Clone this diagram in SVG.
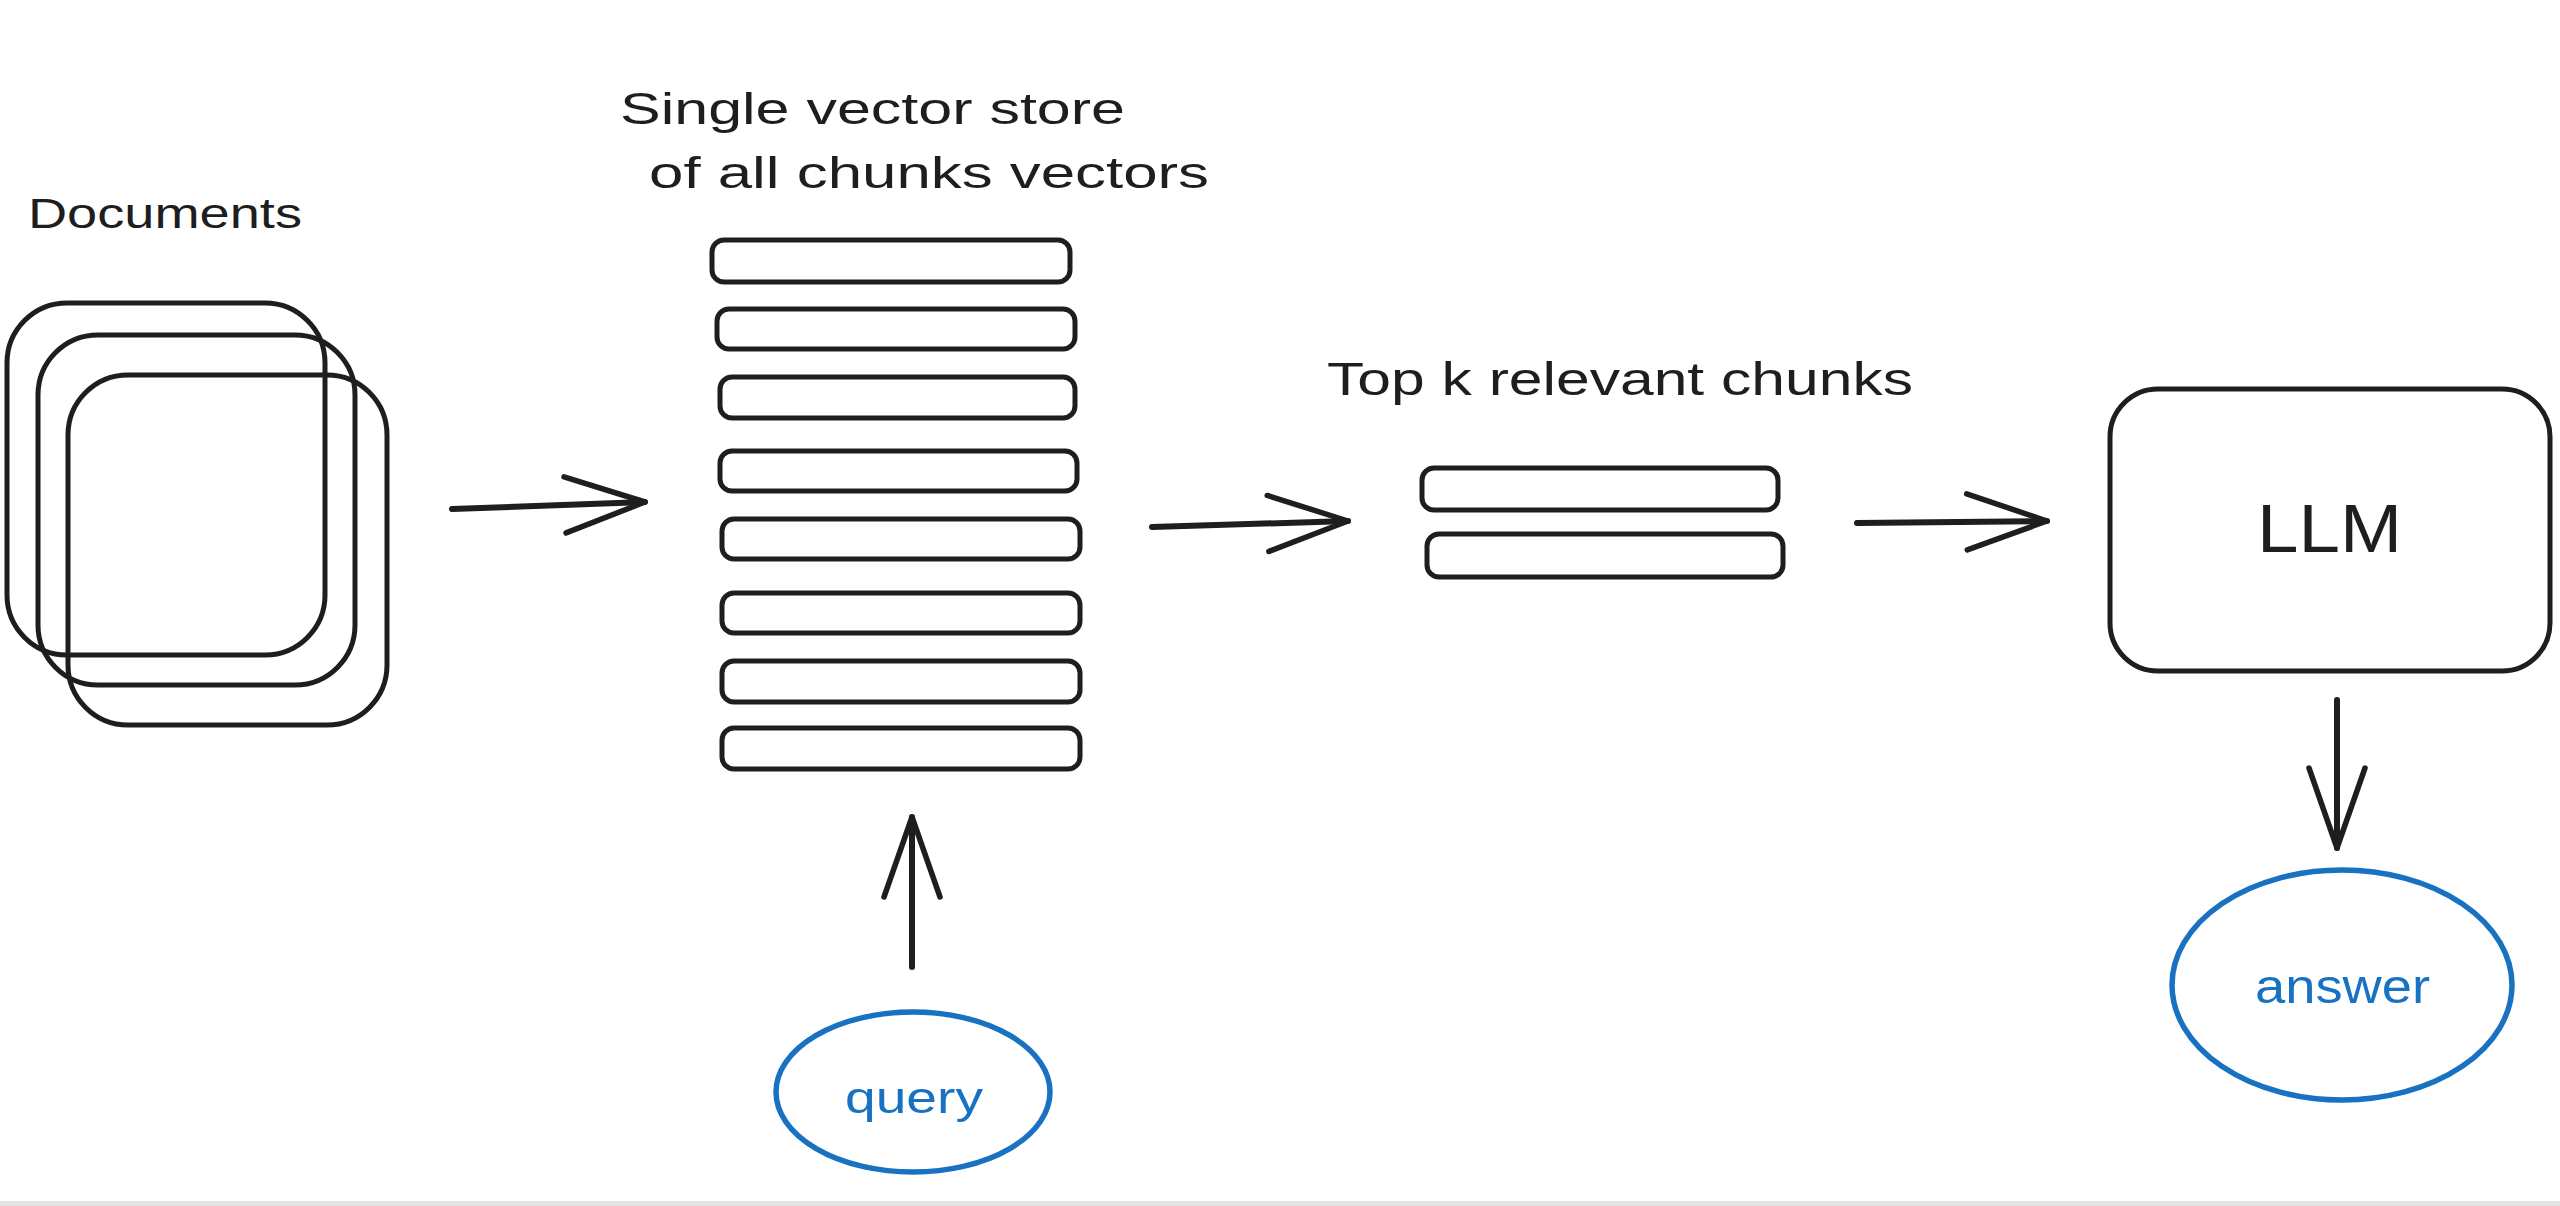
<svg xmlns="http://www.w3.org/2000/svg" width="2560" height="1206" viewBox="0 0 2560 1206">
  <style>
    .shape { fill: none; stroke: #1e1e1e; stroke-width: 5; stroke-linejoin: round; }
    .blue { fill: none; stroke: #1971c2; stroke-width: 5.5; }
    .conn { fill: none; stroke: #1e1e1e; stroke-width: 6; stroke-linecap: round; }
    .lbl { font-family: "Liberation Sans", "DejaVu Sans", sans-serif; fill: #1e1e1e; }
    .blbl { font-family: "Liberation Sans", "DejaVu Sans", sans-serif; fill: #1971c2; }
  </style>
  <defs>
    <marker id="arrow" markerUnits="userSpaceOnUse" viewBox="-90 -40 100 80" refX="0" refY="0" markerWidth="100" markerHeight="80" orient="auto" overflow="visible">
      <path d="M -80 -28 L 0 0 L -80 28" fill="none" stroke="#1e1e1e" stroke-width="5.5" stroke-linecap="round" stroke-linejoin="round"/>
    </marker>
  </defs>
  <rect x="0" y="0" width="2560" height="1206" fill="#ffffff"/>
  <rect x="0" y="1201" width="2560" height="5" fill="#e4e4e4"/>

  <g id="documents">
    <text class="lbl" x="28" y="228" font-size="42" textLength="274" lengthAdjust="spacingAndGlyphs">Documents</text>
    <rect class="shape" x="7" y="303" width="318" height="352" rx="60"/>
    <rect class="shape" x="38" y="335" width="317" height="350" rx="60"/>
    <rect class="shape" x="68" y="375" width="319" height="350" rx="60"/>
  </g>

  <g id="vector-store">
    <text class="lbl" x="620" y="124" font-size="44" textLength="505" lengthAdjust="spacingAndGlyphs">Single vector store</text>
    <text class="lbl" x="649" y="188" font-size="44" textLength="560" lengthAdjust="spacingAndGlyphs">of all chunks vectors</text>
    <rect class="shape" x="712" y="240" width="358" height="42" rx="12"/>
    <rect class="shape" x="717" y="309" width="358" height="40" rx="12"/>
    <rect class="shape" x="720" y="377" width="355" height="41" rx="12"/>
    <rect class="shape" x="720" y="451" width="357" height="40" rx="12"/>
    <rect class="shape" x="722" y="519" width="358" height="40" rx="12"/>
    <rect class="shape" x="722" y="593" width="358" height="40" rx="12"/>
    <rect class="shape" x="722" y="661" width="358" height="41" rx="12"/>
    <rect class="shape" x="722" y="728" width="358" height="41" rx="12"/>
  </g>

  <g id="top-k">
    <text class="lbl" x="1327" y="395" font-size="46" textLength="586" lengthAdjust="spacingAndGlyphs">Top k relevant chunks</text>
    <rect class="shape" x="1422" y="468" width="356" height="42" rx="12"/>
    <rect class="shape" x="1427" y="534" width="356" height="43" rx="12"/>
  </g>

  <g id="llm">
    <rect class="shape" x="2110" y="389" width="440" height="282" rx="48"/>
    <text class="lbl" x="2257" y="552" font-size="68" textLength="145" lengthAdjust="spacingAndGlyphs">LLM</text>
  </g>

  <g id="query">
    <ellipse class="blue" cx="913" cy="1092" rx="137" ry="80"/>
    <text class="blbl" x="845" y="1113" font-size="44" textLength="138" lengthAdjust="spacingAndGlyphs">query</text>
  </g>

  <g id="answer">
    <ellipse class="blue" cx="2342" cy="985" rx="170" ry="115"/>
    <text class="blbl" x="2255" y="1003" font-size="48" textLength="175" lengthAdjust="spacingAndGlyphs">answer</text>
  </g>

  <g id="connectors">
    <path class="conn" d="M452 509 L645 502" marker-end="url(#arrow)"/>
    <path class="conn" d="M1152 527 L1348 521" marker-end="url(#arrow)"/>
    <path class="conn" d="M1857 523 L2047 521" marker-end="url(#arrow)"/>
    <path class="conn" d="M2337 700 L2337 848" marker-end="url(#arrow)"/>
    <path class="conn" d="M912 967 L912 817" marker-end="url(#arrow)"/>
  </g>
</svg>
